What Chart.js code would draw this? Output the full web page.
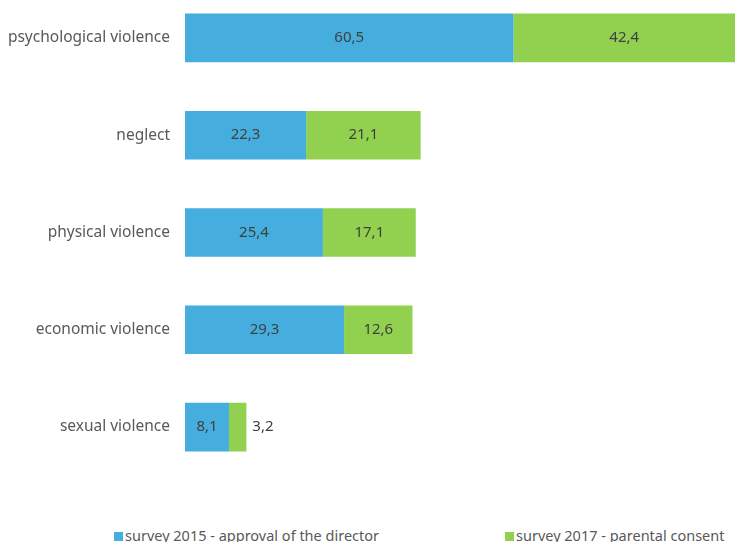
<!DOCTYPE html>
<html>
<head>
<meta charset="utf-8">
<script src="https://cdn.jsdelivr.net/npm/chart.js@4.4.0/dist/chart.umd.min.js"></script>
<style>
  html, body { margin: 0; padding: 0; background: #fff; }
  body { width: 735px; height: 542px; position: relative; overflow: hidden; font-family: "Noto Sans", sans-serif; }
  #wrap { position: absolute; left: 0; top: -35px; width: 735px; height: 535px; }
  .leg { position: absolute; top: 525px; font-size: 14.5px; color: #595959; white-space: nowrap; }
  .leg i { display: inline-block; width: 9px; height: 9px; margin-right: 2px; vertical-align: 0px; }
</style>
</head>
<body>
<div id="wrap"><canvas id="chart"></canvas></div>
<div class="leg" style="left:114px"><i style="background:#45AEDE"></i>survey 2015 - approval of the director</div>
<div class="leg" style="left:505px"><i style="background:#92D050"></i>survey 2017 - parental consent</div>
<script>
const categories = ['psychological violence', 'neglect', 'physical violence', 'economic violence', 'sexual violence'];
const survey2015 = [60.5, 22.3, 25.4, 29.3, 8.1];
const survey2017 = [42.4, 21.1, 17.1, 12.6, 3.2];
const seriesNames = ['survey 2015 - approval of the director', 'survey 2017 - parental consent'];
const axisMax = 101.3;

// etiquetas de valor dentro das barras
const valueLabels = {
    id: 'valueLabels',
    afterDatasetsDraw(chart) {
        const ctx = chart.ctx;
        const area = chart.chartArea;
        ctx.save();
        ctx.font = '15px "Noto Sans", sans-serif';
        ctx.fillStyle = '#404040';
        ctx.textBaseline = 'middle';
        chart.data.datasets.forEach((ds, di) => {
            chart.getDatasetMeta(di).data.forEach((bar, i) => {
                const txt = ds.data[i].toFixed(1).replace('.', ',');
                const left = Math.min(bar.base, bar.x);
                const right = Math.min(Math.max(bar.base, bar.x), area.right);
                const w = ctx.measureText(txt).width;
                if (right - left < w + 6) {
                    ctx.textAlign = 'left';
                    ctx.fillText(txt, right + 6, bar.y);
                } else {
                    ctx.textAlign = 'center';
                    ctx.fillText(txt, (left + right) / 2, bar.y);
                }
            });
        });
        ctx.restore();
    }
};

document.addEventListener('DOMContentLoaded', () => {
    const ctx = document.getElementById('chart').getContext('2d');
    new Chart(ctx, {
        type: 'bar',
        data: {
            labels: categories,
            datasets: [
                { label: seriesNames[0], data: survey2015, backgroundColor: '#45AEDE' },
                { label: seriesNames[1], data: survey2017, backgroundColor: '#92D050' }
            ]
        },
        options: {
            indexAxis: 'y',
            responsive: true,
            maintainAspectRatio: false,
            animation: false,
            layout: { padding: 0 },
            datasets: { bar: { barPercentage: 0.5, categoryPercentage: 1 } },
            plugins: {
                legend: { display: false },
                tooltip: { enabled: false }
            },
            scales: {
                x: { stacked: true, display: false, min: 0, max: axisMax },
                y: {
                    stacked: true,
                    grid: { display: false, drawTicks: false },
                    border: { display: false },
                    ticks: {
                        padding: 15,
                        color: '#595959',
                        font: { family: '"Noto Sans", sans-serif', size: 15.5 }
                    },
                    afterFit(scale) { scale.width = 185; }
                }
            }
        },
        plugins: [valueLabels]
    });
});
</script>
</body>
</html>
